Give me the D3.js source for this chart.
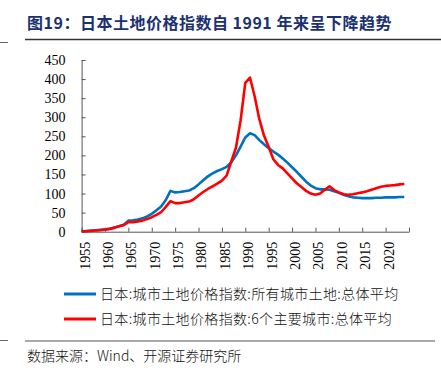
<!DOCTYPE html>
<html><head><meta charset="utf-8">
<script src="https://cdn.jsdelivr.net/npm/d3@7/dist/d3.min.js"></script>
<style>body{margin:0;background:#fff}svg{display:block}</style>
</head><body><script>
const years = d3.range(1955, 2025);
const allCities = [1,2,3,4,5,6,8,11,14,18,
  29,30,32,35,40,47,56,66,83,107,
  103,104,106,108,114,124,135,145,153,159,
  164,170,182,200,223,247,258,253,240,229,
  219,210,202,192,181,169,157,144,131,121,
  114,111,111,110,106,102,97,93,90,89,
  88,88,88,89,89,90,90,90,91,91];
const sixCities = [1,1,2,3,4,5,7,10,14,17,
  25,25,27,29,33,38,44,51,65,80,
  75,75,77,79,85,95,104,112,119,126,
  134,147,184,220,292,390,404,355,295,252,
  222,190,175,166,153,140,127,117,107,100,
  97,100,110,119,109,103,98,97,98,101,
  103,106,110,114,118,120,121,122,124,125];
const yTicks = [0,50,100,150,200,250,300,350,400,450];
const xTicks = [1955,1960,1965,1970,1975,1980,1985,1990,1995,2000,2005,2010,2015,2020,2025];
const xLabels = ["1955","1960","1965","1970","1975","1980","1985","1990","1995","2000","2005","2010","2015","2020",""];
const seriesNames = ["日本:城市土地价格指数:所有城市土地:总体平均","日本:城市土地价格指数:6个主要城市:总体平均"];
const seriesColors = ["#0070C0","#FF0000"];
const titleText = "图19：日本土地价格指数自 1991 年来呈下降趋势";
const sourceText = "数据来源：Wind、开源证券研究所";

const W = 441, H = 371;
const svg = d3.select("body").append("svg").attr("width", W).attr("height", H);
svg.append("rect").attr("width", W).attr("height", H).attr("fill", "#fff");

// title
svg.append("text").attr("x", 27).attr("y", 29)
  .attr("font-family", "'Noto Sans CJK SC', sans-serif").attr("font-weight", "bold")
  .attr("font-size", 16).attr("fill", "#1b3172").attr("letter-spacing", 0.5)
  .text(titleText);
svg.append("line").attr("x1", 25).attr("x2", 441).attr("y1", 39.5).attr("y2", 39.5)
  .attr("stroke", "#333").attr("stroke-width", 1.5);
svg.append("line").attr("x1", 0).attr("x2", 8).attr("y1", 42.5).attr("y2", 42.5)
  .attr("stroke", "#666").attr("stroke-width", 1);

const x = d3.scaleLinear().domain([1955, 2025]).range([81.6, 409]);
const y = d3.scaleLinear().domain([0, 450]).range([231.7, 60]);

const gy = svg.append("g").attr("transform", `translate(${x(1955)},0)`)
  .call(d3.axisLeft(y).tickValues(yTicks).tickSizeInner(-4).tickSizeOuter(0).tickPadding(16));
gy.selectAll("text").attr("font-family", "'Liberation Serif', 'Times New Roman', serif")
  .attr("font-size", 14).attr("fill", "#000");

const gx = svg.append("g").attr("transform", `translate(0,${y(0)})`)
  .call(d3.axisBottom(x).tickValues(xTicks).tickSizeInner(-4).tickSizeOuter(0)
    .tickFormat((d, i) => xLabels[i]));
gx.selectAll("text").attr("font-family", "'Liberation Serif', 'Times New Roman', serif")
  .attr("font-size", 14).attr("fill", "#000")
  .attr("transform", "rotate(-90)").attr("text-anchor", "end")
  .attr("x", -10).attr("y", 2.5).attr("dy", "0.35em");
svg.selectAll(".domain, .tick line").attr("stroke", "#555");

const line = d3.line().x((d, i) => x(years[i])).y(d => y(d));
[allCities, sixCities].forEach((s, k) => {
  svg.append("path").datum(s).attr("d", line).attr("fill", "none")
    .attr("stroke", seriesColors[k]).attr("stroke-width", 2.6)
    .attr("stroke-linejoin", "round");
});

// legend
seriesNames.forEach((n, k) => {
  const ly = 294 + k * 25;
  svg.append("line").attr("x1", 64).attr("x2", 96).attr("y1", ly).attr("y2", ly)
    .attr("stroke", seriesColors[k]).attr("stroke-width", 3);
  svg.append("text").attr("x", 100).attr("y", ly + 5)
    .attr("font-family", "'Noto Sans CJK SC', sans-serif").attr("font-size", 14)
    .attr("font-weight", 300).attr("letter-spacing", 0.35)
    .attr("fill", "#111").text(n);
});

svg.append("line").attr("x1", 25).attr("x2", 435).attr("y1", 341).attr("y2", 341)
  .attr("stroke", "#555").attr("stroke-width", 1.2);
svg.append("line").attr("x1", 0).attr("x2", 8).attr("y1", 340.5).attr("y2", 340.5)
  .attr("stroke", "#666").attr("stroke-width", 1);
svg.append("text").attr("x", 27).attr("y", 361)
  .attr("font-family", "'Noto Sans CJK SC', sans-serif").attr("font-size", 14)
  .attr("font-weight", 300).attr("fill", "#111").text(sourceText);
</script></body></html>
